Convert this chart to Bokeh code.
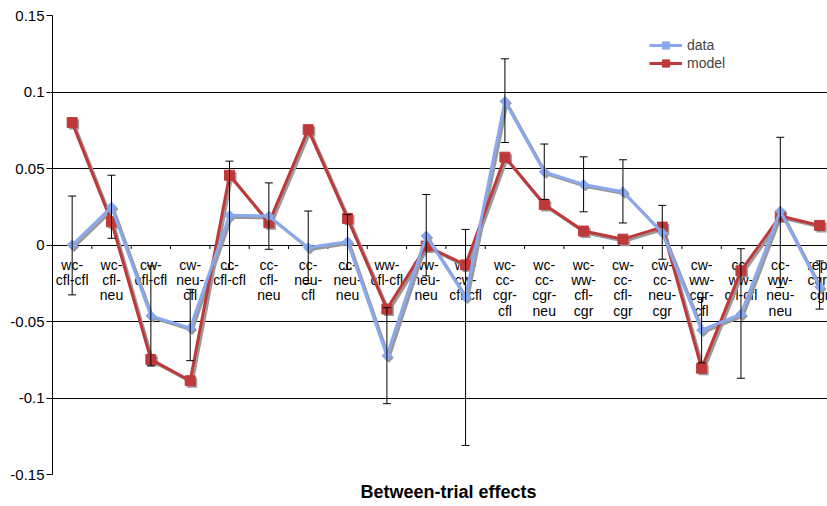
import numpy as np
from bokeh.plotting import figure
from bokeh.models import (FixedTicker, Whisker, ColumnDataSource, Legend, LegendItem,
                          Title, TeeHead)
from bokeh.core.properties import value
from bokeh.embed import file_html
from bokeh.resources import INLINE

categories = ["wc-\ncfl-cfl", "wc-\ncfl-\nneu", "cw-\ncfl-cfl", "cw-\nneu-\ncfl",
              "cc-\ncfl-cfl", "cc-\ncfl-\nneu", "cc-\nneu-\ncfl", "cc-\nneu-\nneu",
              "ww-\ncfl-cfl", "ww-\nneu-\nneu", "wc-\ncw-\ncfl-cfl", "wc-\ncc-\ncgr-\ncfl",
              "wc-\ncc-\ncgr-\nneu", "wc-\nww-\ncfl-\ncgr", "cw-\ncc-\ncfl-\ncgr",
              "cw-\ncc-\nneu-\ncgr", "cw-\nww-\ncgr-\ncfl", "cc-\nww-\ncfl-cfl",
              "cc-\nww-\nneu-\nneu", "rep-\ncgr-\ncgr"]
data_vals = [0.0, 0.0248, -0.0463, -0.0543, 0.0194, 0.0189, -0.0017, 0.0022, -0.0724, 0.0059,
             -0.034, 0.0939, 0.0478, 0.0396, 0.0348, 0.0080, -0.0556, -0.0452, 0.0222, -0.0274]
model_vals = [0.080, 0.0152, -0.0748, -0.0887, 0.0456, 0.0145, 0.0754, 0.0174, -0.0419, -0.0007,
              -0.013, 0.0574, 0.0265, 0.0091, 0.0038, 0.0117, -0.0806, -0.0169, 0.0189, 0.0128]
err_upper = [0.032, 0.0456, -0.0137, -0.029, 0.0548, 0.0406, 0.0222, 0.020, -0.041, 0.033,
             0.0102, 0.1217, 0.066, 0.0576, 0.0557, 0.0259, -0.0343, -0.0024, 0.0704, -0.0104]
err_lower = [-0.0326, 0.0044, -0.079, -0.0756, -0.0159, -0.0028, -0.0252, -0.0159, -0.1037, -0.0202,
             -0.131, 0.067, 0.0298, 0.0217, 0.0144, -0.0093, -0.077, -0.0871, -0.0278, -0.0419]
y_ticks = [-0.15, -0.1, -0.05, 0, 0.05, 0.1, 0.15]
y_tick_labels = ["-0.15", "-0.1", "-0.05", "0", "0.05", "0.1", "0.15"]
x_title = "Between-trial effects"

BLUE = "#8aa8f0"
RED = "#be3a3a"
SHADOW = "#9a9a9a"
FONT = "Liberation Sans"

n = len(categories)
x = np.arange(n)

W, H = 827, 506
BL, BT, BB = 52, 15, 31
p = figure(width=W, height=H, output_backend="svg", toolbar_location=None,
           x_range=(-0.5, 19.2), y_range=(-0.15, 0.15),
           min_border_left=BL, min_border_right=0, min_border_top=BT, min_border_bottom=BB)
p.outline_line_color = None
p.background_fill_color = "white"

# axes
p.xaxis.visible = False
p.xgrid.visible = False
p.yaxis.ticker = FixedTicker(ticks=y_ticks)
p.yaxis.major_label_overrides = {t: l for t, l in zip(y_ticks, y_tick_labels)}
p.yaxis.major_label_text_font = FONT
p.yaxis.major_label_text_font_size = "15px"
p.yaxis.major_label_text_color = "black"
p.yaxis.major_label_standoff = 2
p.yaxis.major_tick_in = 0
p.yaxis.major_tick_out = 6
p.yaxis.minor_tick_line_color = None
p.yaxis.axis_line_color = "black"
p.yaxis.major_tick_line_color = "black"
p.ygrid.ticker = FixedTicker(ticks=y_ticks)
p.ygrid.grid_line_color = "black"
p.ygrid.grid_line_width = 1

# pixel-to-data helpers for small style offsets
px_x = (19.2 - (-0.5)) / (W - BL)
px_y = 0.30 / (H - BT - BB)

# category boundary ticks on the zero line
bx = np.arange(n) + 0.5
p.segment(x0=bx, y0=np.zeros(n), x1=bx, y1=np.full(n, -4 * px_y), line_color="black", line_width=1)

# category labels
p.text(x=x, y=np.zeros(n), text=categories, text_font=value(FONT), text_font_size="14px",
       text_align="center", text_baseline="top", y_offset=12, text_line_height=0.95,
       text_color="black")

# error bars
esrc = ColumnDataSource(dict(x=x, upper=err_upper, lower=err_lower))
wh = Whisker(source=esrc, base="x", upper="upper", lower="lower", line_color="black",
             line_width=1, level="glyph",
             upper_head=TeeHead(size=8, line_color="black", line_width=1),
             lower_head=TeeHead(size=8, line_color="black", line_width=1))
p.add_layout(wh)

dx, dy = 2 * px_x, 2 * px_y
xs = x + dx
# shadows
p.line(xs, np.array(model_vals) - dy, line_color=SHADOW, line_width=3)
p.scatter(xs, np.array(model_vals) - dy, marker="square", size=10, fill_color=SHADOW, line_color=None)
p.line(xs, np.array(data_vals) - dy, line_color=SHADOW, line_width=3)
p.scatter(xs, np.array(data_vals) - dy, marker="square", angle=np.pi / 4, size=7,
          fill_color=SHADOW, line_color=None)

# series
rl = p.line(x, model_vals, line_color=RED, line_width=3)
rm = p.scatter(x, model_vals, marker="square", size=10, fill_color=RED, line_color=RED)
bl = p.line(x, data_vals, line_color=BLUE, line_width=3)
bm = p.scatter(x, data_vals, marker="square", angle=np.pi / 4, size=7, fill_color=BLUE, line_color=BLUE)

legend = Legend(items=[LegendItem(label="data", renderers=[bl, bm]),
                       LegendItem(label="model", renderers=[rl, rm])],
                location=(597, 402), padding=0, margin=0, spacing=0,
                glyph_width=33, glyph_height=18, label_height=18, label_standoff=5,
                label_text_font=FONT, label_text_font_size="14px",
                border_line_color=None, background_fill_alpha=0)
p.add_layout(legend)

t = Title(text=x_title, align="left", offset=308, text_font=FONT, text_font_size="18px",
          text_font_style="bold", text_color="black", standoff=10)
p.add_layout(t, "below")

open("out.html", "w").write(file_html(p, INLINE))
